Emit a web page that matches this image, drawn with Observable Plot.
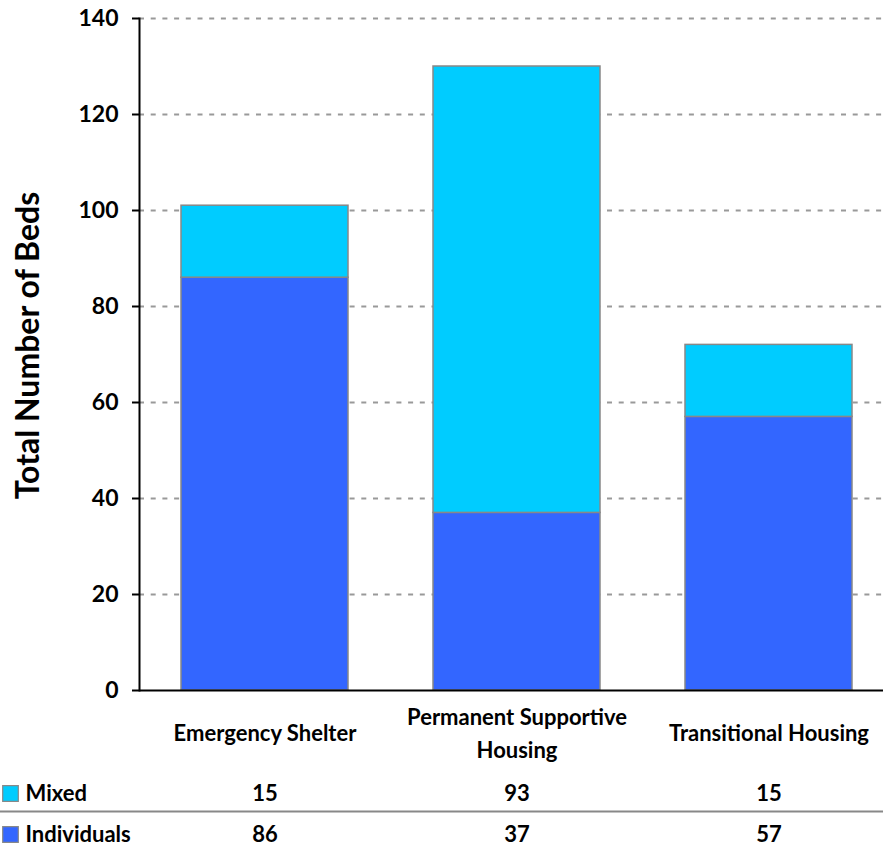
<!DOCTYPE html>
<html>
<head>
<meta charset="utf-8">
<script src="https://cdn.jsdelivr.net/npm/d3@7"></script>
<script src="https://cdn.jsdelivr.net/npm/@observablehq/plot@0.6"></script>
<style>
  html, body { margin: 0; padding: 0; background: white; overflow: hidden; }
  #chart svg { font-family: Lato, "Open Sans", sans-serif; font-weight: bold; }
</style>
</head>
<body>
<div id="chart"></div>
<script>
const categories = ["Emergency Shelter", "Permanent Supportive Housing", "Transitional Housing"];
const categoryLabels = ["Emergency Shelter", "Permanent Supportive\nHousing", "Transitional Housing"];
const series = ["Individuals", "Mixed"];
const individuals = [86, 37, 57];
const mixed = [15, 93, 15];
const yTicks = [0, 20, 40, 60, 80, 100, 120, 140];
const colors = {Individuals: "#3366FF", Mixed: "#00CCFF"};

const data = [];
categories.forEach((c, i) => {
  data.push({category: c, series: "Individuals", value: individuals[i]});
  data.push({category: c, series: "Mixed", value: mixed[i]});
});
const labelMap = new Map(categories.map((c, i) => [c, categoryLabels[i]]));

const tableRows = [
  {series: "Mixed", values: mixed, dy: 103},
  {series: "Individuals", values: individuals, dy: 144}
];

const W = 883, H = 846;
const mL = 139, mT = 18, mB = 156;
const rangeEnd = 895, pIn = 0.337, pOut = 0.1685;

const marks = [
  Plot.ruleY(yTicks.slice(1), {stroke: "#999", strokeWidth: 2, strokeDasharray: "5,6.7"}),
  Plot.barY(data, {x: "category", y: "value", fill: d => colors[d.series], stroke: "#888", strokeWidth: 1.5, order: series}),
  Plot.frame({anchor: "left", stroke: "black", strokeWidth: 2}),
  Plot.axisY({ticks: yTicks, tickSize: 7, tickPadding: 14, fontSize: 23, fontWeight: "bold", label: null, stroke: "black", strokeWidth: 2, fill: "black"}),
  Plot.ruleY([0], {stroke: "black", strokeWidth: 2}),
  Plot.text(categories, {x: d => d, text: d => labelMap.get(d), frameAnchor: "bottom", dy: 40, lineAnchor: "middle", lineHeight: 1.5, fontSize: 22, fontWeight: "bold", fill: "black"}),
  Plot.text(["Total Number of Beds"], {frameAnchor: "left", rotate: -90, textAnchor: "middle", lineAnchor: "middle", dx: -111, dy: -9, fontSize: 32, fontWeight: "bold", fill: "black"}),
  // data table separator
  Plot.ruleY([0], {dy: 121, insetLeft: -mL, stroke: "#888", strokeWidth: 2}),
];
tableRows.forEach(r => {
  const cells = categories.map((c, i) => ({category: c, value: r.values[i]}));
  marks.push(Plot.text(cells, {x: "category", text: d => String(d.value), frameAnchor: "bottom", dy: r.dy, lineAnchor: "middle", fontSize: 22, fontWeight: "bold", fill: "black"}));
  marks.push(Plot.dot([r.series], {frameAnchor: "bottom-left", dx: -129, dy: r.dy, symbol: "square", r: 8.8, fill: colors[r.series], stroke: "#888", strokeWidth: 1.2}));
  marks.push(Plot.text([r.series], {frameAnchor: "bottom-left", dx: -114, dy: r.dy, text: d => d, textAnchor: "start", lineAnchor: "middle", fontSize: 22, fontWeight: "bold", fill: "black"}));
});

const chart = Plot.plot({
  width: W,
  height: H,
  marginLeft: mL,
  marginRight: 0,
  marginTop: mT,
  marginBottom: mB,
  x: {domain: categories, range: [mL, rangeEnd], paddingInner: pIn, paddingOuter: pOut, axis: null},
  y: {domain: [0, 140], axis: null},
  marks
});
document.getElementById("chart").appendChild(chart);
</script>
</body>
</html>
